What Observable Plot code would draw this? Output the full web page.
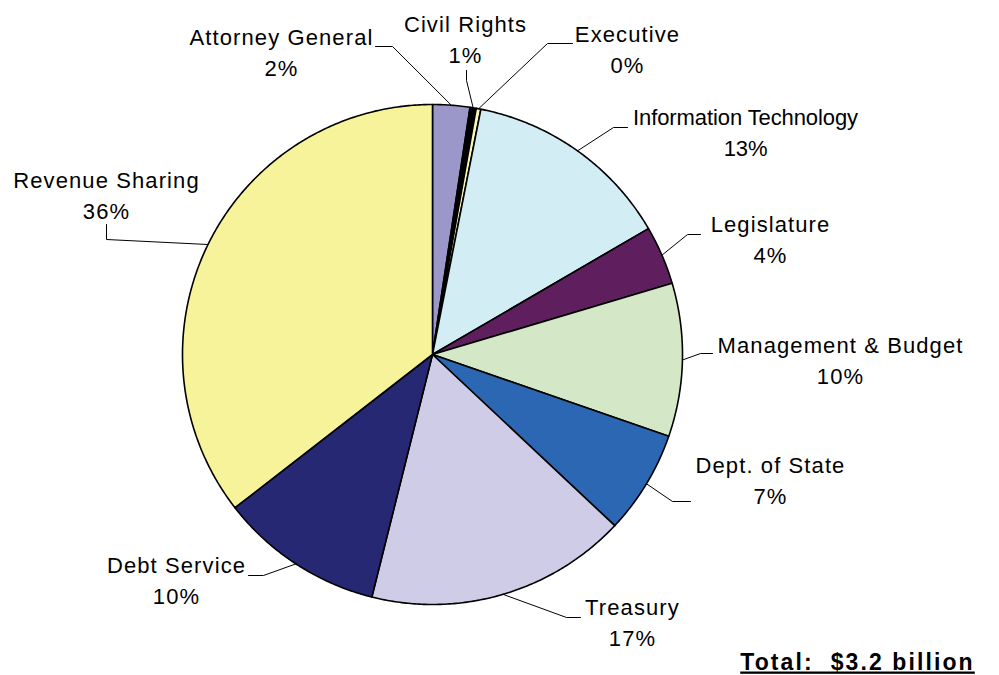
<!DOCTYPE html>
<html><head><meta charset="utf-8">
<script src="https://cdn.jsdelivr.net/npm/d3@7"></script>
<script src="https://cdn.jsdelivr.net/npm/@observablehq/plot@0.6"></script>
<style>body{margin:0;background:#fff;overflow:hidden}</style>
</head><body><div id="chart"></div>
<script>
// ---- data ----
const categories = ["Attorney General","Civil Rights","Executive","Information Technology","Legislature","Management & Budget","Dept. of State","Treasury","Debt Service","Revenue Sharing"];
const shares = [2.4, 0.4, 0.3, 13.5, 3.8, 9.9, 6.7, 16.9, 10.6, 35.5];
const pctLabels = ["2%","1%","0%","13%","4%","10%","7%","17%","10%","36%"];
const totalLabel = "Total:  $3.2 billion";

// ---- styles ----
const colors = ["#9b97c9","#000000","#fbf7b4","#d3edf4","#5f1f5f","#d4e8c8","#2c67b4","#cfcce7","#272873","#f7f39b"];

// ---- layout (pixels) ----
const CX = 432, CY = 354, R = 250;
const labelAt = [[281,50],[465,37],[627,47],[745,130],[770,237],[840,358],[770,478],[632,620],[176,578],[106,193]];
const leaderBends = [
  [[392,46],[375,46]],
  [[466,80],[466,70]],
  [[547,43],[572,43]],
  [[613,127],[627,127]],
  [[687,234],[700,234]],
  [[700,353],[712,353]],
  [[672,501],[690,501]],
  [[566,617],[580,617]],
  [[263,575],[248,575]],
  [[106,239],[106,224]]
];
const totalAt = [857, 669];

// ---- build geometry from data ----
const arcs = d3.pie().sort(null).value(d => d).startAngle(0).endAngle(2*Math.PI)(shares);
const px = a => CX + R*Math.sin(a), py = a => CY - R*Math.cos(a);
const polys = [];
arcs.forEach((a, i) => {
  polys.push({i, x: CX, y: CY, color: colors[i]});
  const n = Math.max(2, Math.ceil((a.endAngle - a.startAngle) / (Math.PI/360)));
  for (let k = 0; k <= n; k++) {
    const t = a.startAngle + (a.endAngle - a.startAngle)*k/n;
    polys.push({i, x: px(t), y: py(t), color: colors[i]});
  }
});
const leaders = [];
arcs.forEach((a, i) => {
  const m = (a.startAngle + a.endAngle)/2;
  leaders.push({i, x: px(m), y: py(m)});
  leaderBends[i].forEach(p => leaders.push({i, x: p[0], y: p[1]}));
});
const labels = categories.map((c, i) => ({x: labelAt[i][0], y: labelAt[i][1], text: c + "\n" + pctLabels[i]}));

const chart = Plot.plot({
  width: 999, height: 675,
  margin: 0,
  x: {domain: [0, 999], range: [0, 999], axis: null},
  y: {domain: [0, 675], range: [0, 675], axis: null},
  color: {type: "identity"},
  style: {fontFamily: "'Liberation Sans', Arial, sans-serif", background: "#fff", letterSpacing: "1.1px"},
  marks: [
    Plot.line(polys, {x: "x", y: "y", z: "i", fill: "color", stroke: "#000", strokeWidth: 1.6, curve: "linear-closed", strokeLinejoin: "round"}),
    Plot.line(leaders, {x: "x", y: "y", z: "i", stroke: "#000", strokeWidth: 1}),
    Plot.text(labels, {x: "x", y: "y", text: "text", fontSize: 22, lineHeight: 1.41, fill: "#000"}),
    Plot.text([totalLabel], {x: () => totalAt[0], y: () => totalAt[1], text: d => d, fontSize: 23, fontWeight: "bold", fill: "#000", lineAnchor: "bottom"})
  ]
});
d3.select(chart).selectAll("text").filter(function(){ return this.textContent === totalLabel; })
  .style("text-decoration", "underline").style("white-space", "pre").style("letter-spacing", "2.1px");
d3.select(chart).selectAll("text").filter(function(){ return this.textContent.startsWith("Information Technology"); })
  .style("letter-spacing", "-0.1px");
document.getElementById("chart").appendChild(chart);
</script>
</body></html>
